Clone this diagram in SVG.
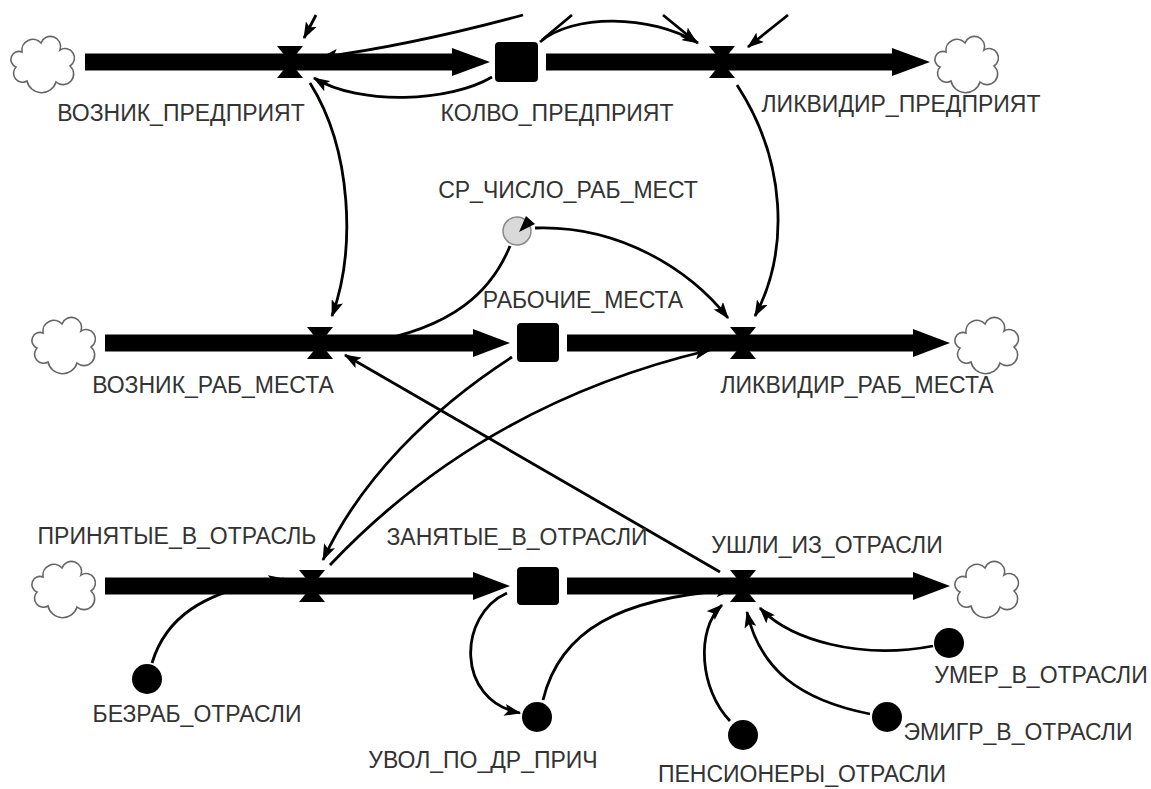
<svg xmlns="http://www.w3.org/2000/svg" width="1151" height="789" viewBox="0 0 1151 789">
<style>
.lbl{font-family:"Liberation Sans",Arial,sans-serif;font-size:23px;fill:#333;text-anchor:middle}
.pipe{fill:#000}
.stock{fill:#000}
.valve{fill:#000}
.aux{fill:#000}
.cloud{fill:#fff;stroke:#666;stroke-width:1.6}
.con{fill:none;stroke:#000;stroke-width:2.8}
</style>
<defs>
<marker id="ah" viewBox="0 0 14 10" refX="13" refY="5" markerWidth="17" markerHeight="12" orient="auto" markerUnits="userSpaceOnUse">
<path d="M0,0 L14,5 L0,10 L3,5 z" fill="#000"/>
</marker>
<path id="cloudShape" d="M-16,19 A9,9 0 0 1 -27,5 A8,8 0 0 1 -21,-10 A11,11 0 0 1 -2,-19 A10,10 0 0 1 17,-12 A8,8 0 0 1 27,4 A9,9 0 0 1 13,20 A15,15 0 0 1 -16,19 Z"/>
<path id="valveShape" d="M-13,-16 L13,-16 L0,0 L13,16 L-13,16 L0,0 Z"/>
</defs>
<rect width="1151" height="789" fill="#fff"/>

<g id="connectors">
  <!-- top region -->
  <path class="con" d="M316,15 L304,38" marker-end="url(#ah)"/>
  <path class="con" d="M523,15 C460,32 390,48 322,57" marker-end="url(#ah)"/>
  <path class="con" d="M492,77 C450,102 360,106 314,78" marker-end="url(#ah)"/>
  <path class="con" d="M572,15 L542,40"/>
  <path class="con" d="M540,42 C572,14 650,14 698,43" marker-end="url(#ah)"/>
  <path class="con" d="M663,15 L696,42" marker-end="url(#ah)"/>
  <path class="con" d="M788,15 L748,47" marker-end="url(#ah)"/>
  <path class="con" d="M310,83 C352,150 356,250 332,316" marker-end="url(#ah)"/>
  <path class="con" d="M737,85 C786,160 790,250 755,316" marker-end="url(#ah)"/>
  <!-- middle -->
  <path class="con" d="M535,228 C620,225 690,270 728,318" marker-end="url(#ah)"/>
  <path class="con" d="M510,246 C492,290 455,328 365,343" marker-end="url(#ah)"/>
  <path class="con" d="M512,357 C430,410 360,480 323,560" marker-end="url(#ah)"/>
  <path class="con" d="M330,565 C420,470 540,390 710,350" marker-end="url(#ah)"/>
  <path class="con" d="M720,572 L345,355" marker-end="url(#ah)"/>
  <!-- bottom -->
  <path class="con" d="M152,663 C165,620 200,590 284,579" marker-end="url(#ah)"/>
  <path class="con" d="M507,593 C458,615 455,700 520,713" marker-end="url(#ah)"/>
  <path class="con" d="M543,700 C560,630 620,598 732,590" marker-end="url(#ah)"/>
  <path class="con" d="M730,721 C700,690 695,630 722,605" marker-end="url(#ah)"/>
  <path class="con" d="M870,714 C800,700 760,670 747,612" marker-end="url(#ah)"/>
  <path class="con" d="M933,646 C860,660 790,640 760,608" marker-end="url(#ah)"/>
</g>

<!-- Row 1 -->
<g id="cloud_src_1"><use href="#cloudShape" class="cloud" transform="translate(43,62)"/></g>
<g id="cloud_sink_1"><use href="#cloudShape" class="cloud" transform="translate(967,62)"/></g>
<g id="flow_vozn_predpr">
  <rect class="pipe" x="85" y="53.5" width="370" height="17"/>
  <polygon class="pipe" points="452,48 490,62 452,76"/>
  <use href="#valveShape" class="valve" transform="translate(290,62)"/>
  <text class="lbl" x="181" y="121">ВОЗНИК_ПРЕДПРИЯТ</text>
</g>
<g id="stock_kolvo">
  <rect class="stock" x="495" y="42" width="43" height="40" rx="4"/>
  <text class="lbl" x="557" y="121">КОЛВО_ПРЕДПРИЯТ</text>
</g>
<g id="flow_likv_predpr">
  <rect class="pipe" x="546" y="53.5" width="350" height="17"/>
  <polygon class="pipe" points="892,48 930,62 892,76"/>
  <use href="#valveShape" class="valve" transform="translate(722,62)"/>
  <text class="lbl" x="901" y="112">ЛИКВИДИР_ПРЕДПРИЯТ</text>
</g>

<!-- Row 2 -->
<g id="cloud_src_2"><use href="#cloudShape" class="cloud" transform="translate(64,343)"/></g>
<g id="cloud_sink_2"><use href="#cloudShape" class="cloud" transform="translate(987,343)"/></g>
<g id="flow_vozn_rab">
  <rect class="pipe" x="105" y="334.5" width="370" height="17"/>
  <polygon class="pipe" points="473,329 510,343 473,357"/>
  <use href="#valveShape" class="valve" transform="translate(320,343)"/>
  <text class="lbl" x="213" y="393">ВОЗНИК_РАБ_МЕСТА</text>
</g>
<g id="stock_rab_mesta">
  <rect class="stock" x="517" y="323" width="42" height="39" rx="4"/>
  <text class="lbl" x="583" y="308">РАБОЧИЕ_МЕСТА</text>
</g>
<g id="flow_likv_rab">
  <rect class="pipe" x="567" y="334.5" width="350" height="17"/>
  <polygon class="pipe" points="913,329 950,343 913,357"/>
  <use href="#valveShape" class="valve" transform="translate(743,343)"/>
  <text class="lbl" x="857" y="393">ЛИКВИДИР_РАБ_МЕСТА</text>
</g>
<g id="aux_sr_chislo">
  <circle cx="517" cy="231" r="14" fill="#d9d9d9" stroke="#888" stroke-width="1.5"/>
  <polygon points="519,232 526,216 535,224" fill="#000"/>
  <text class="lbl" x="568" y="198">СР_ЧИСЛО_РАБ_МЕСТ</text>
</g>

<!-- Row 3 -->
<g id="cloud_src_3"><use href="#cloudShape" class="cloud" transform="translate(64,587)"/></g>
<g id="cloud_sink_3"><use href="#cloudShape" class="cloud" transform="translate(987,587)"/></g>
<g id="flow_prinyat">
  <rect class="pipe" x="105" y="577.5" width="370" height="17"/>
  <polygon class="pipe" points="473,572 510,586 473,600"/>
  <use href="#valveShape" class="valve" transform="translate(312,586)"/>
  <text class="lbl" x="177" y="544">ПРИНЯТЫЕ_В_ОТРАСЛЬ</text>
</g>
<g id="stock_zanyat">
  <rect class="stock" x="517" y="567" width="42" height="38" rx="4"/>
  <text class="lbl" x="517" y="545">ЗАНЯТЫЕ_В_ОТРАСЛИ</text>
</g>
<g id="flow_ushli">
  <rect class="pipe" x="567" y="577.5" width="350" height="17"/>
  <polygon class="pipe" points="913,572 950,586 913,600"/>
  <use href="#valveShape" class="valve" transform="translate(743,586)"/>
  <text class="lbl" x="827" y="553">УШЛИ_ИЗ_ОТРАСЛИ</text>
</g>
<g id="aux_bezrab">
  <circle class="aux" cx="147" cy="679" r="15"/>
  <text class="lbl" x="197" y="722">БЕЗРАБ_ОТРАСЛИ</text>
</g>
<g id="aux_uvol">
  <circle class="aux" cx="537" cy="717" r="15"/>
  <text class="lbl" x="483" y="768">УВОЛ_ПО_ДР_ПРИЧ</text>
</g>
<g id="aux_pension">
  <circle class="aux" cx="743" cy="735" r="15"/>
  <text class="lbl" x="802" y="782">ПЕНСИОНЕРЫ_ОТРАСЛИ</text>
</g>
<g id="aux_umer">
  <circle class="aux" cx="949" cy="643" r="15"/>
  <text class="lbl" x="1041" y="683">УМЕР_В_ОТРАСЛИ</text>
</g>
<g id="aux_emigr">
  <circle class="aux" cx="887" cy="717" r="15"/>
  <text class="lbl" x="1018" y="740">ЭМИГР_В_ОТРАСЛИ</text>
</g>
</svg>
